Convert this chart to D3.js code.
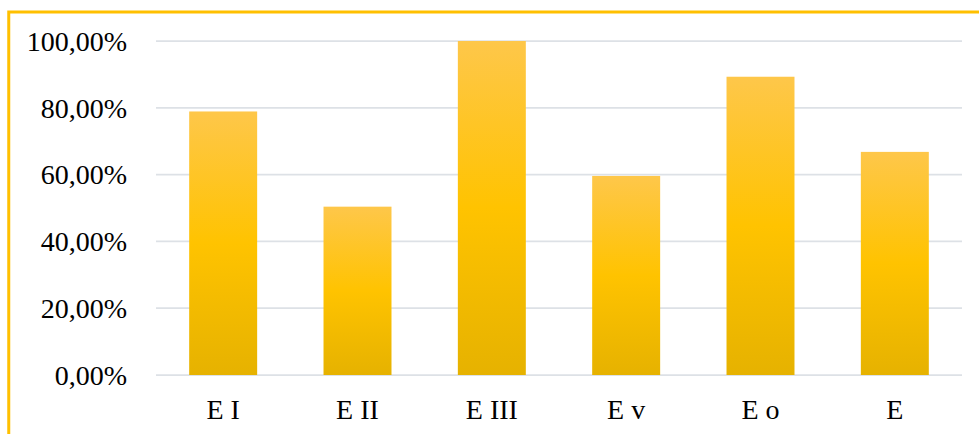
<!DOCTYPE html>
<html>
<head>
<meta charset="utf-8">
<script src="https://cdn.jsdelivr.net/npm/d3@7"></script>
<style>
  html, body { margin: 0; padding: 0; background: #fff; }
  svg { display: block; }
  text { font-family: "Liberation Serif", "Times New Roman", serif; fill: #000; }
</style>
</head>
<body>
<svg id="chart"></svg>
<script>
// data
const categories = ["E I", "E II", "E III", "E v", "E o", "E"];
const values = [0.789, 0.504, 1.0, 0.596, 0.893, 0.668];
const yTicks = [0, 0.2, 0.4, 0.6, 0.8, 1.0];

const width = 979, height = 434;
const margin = { left: 156, right: 17, top: 41, bottom: 59 };

const svg = d3.select("#chart")
  .attr("width", width)
  .attr("height", height);

// bar gradient (light top -> base -> darker bottom)
const defs = svg.append("defs");
const grad = defs.append("linearGradient")
  .attr("id", "barGrad")
  .attr("x1", 0).attr("y1", 0)
  .attr("x2", 0).attr("y2", 1);
grad.append("stop").attr("offset", "0%").attr("stop-color", "#FEC74A");
grad.append("stop").attr("offset", "50%").attr("stop-color", "#FFC300");
grad.append("stop").attr("offset", "100%").attr("stop-color", "#E6B200");

// outer frame, only top + left visible in the picture
svg.append("rect")
  .attr("x", 8.75)
  .attr("y", 12)
  .attr("width", width + 20)
  .attr("height", height + 20)
  .attr("fill", "none")
  .attr("stroke", "#FFC000")
  .attr("stroke-width", 3);

const x = d3.scaleBand()
  .domain(categories)
  .range([margin.left, width - margin.right])
  .paddingInner(0.494)
  .paddingOuter(0.247);

const y = d3.scaleLinear()
  .domain([0, 1])
  .range([height - margin.bottom, margin.top]);

const fmt = d => d3.format(".2f")(d * 100).replace(".", ",") + "%";

// gridlines
svg.append("g")
  .attr("class", "grid")
  .selectAll("line")
  .data(yTicks)
  .join("line")
  .attr("x1", margin.left)
  .attr("x2", width - margin.right)
  .attr("y1", d => y(d))
  .attr("y2", d => y(d))
  .attr("stroke", "#DDE1E6")
  .attr("stroke-width", 1.75);

// y labels
svg.append("g")
  .selectAll("text")
  .data(yTicks)
  .join("text")
  .attr("x", 127)
  .attr("y", d => y(d))
  .attr("dy", "0.35em")
  .attr("text-anchor", "end")
  .attr("font-size", "28px")
  .text(fmt);

// bars
svg.append("g")
  .selectAll("rect")
  .data(values)
  .join("rect")
  .attr("x", (d, i) => x(categories[i]))
  .attr("width", x.bandwidth())
  .attr("y", d => y(d))
  .attr("height", d => y(0) - y(d))
  .attr("fill", "url(#barGrad)");

// x labels
svg.append("g")
  .selectAll("text")
  .data(categories)
  .join("text")
  .attr("x", d => x(d) + x.bandwidth() / 2)
  .attr("y", 419)
  .attr("text-anchor", "middle")
  .attr("font-size", "28px")
  .text(d => d);
</script>
</body>
</html>
